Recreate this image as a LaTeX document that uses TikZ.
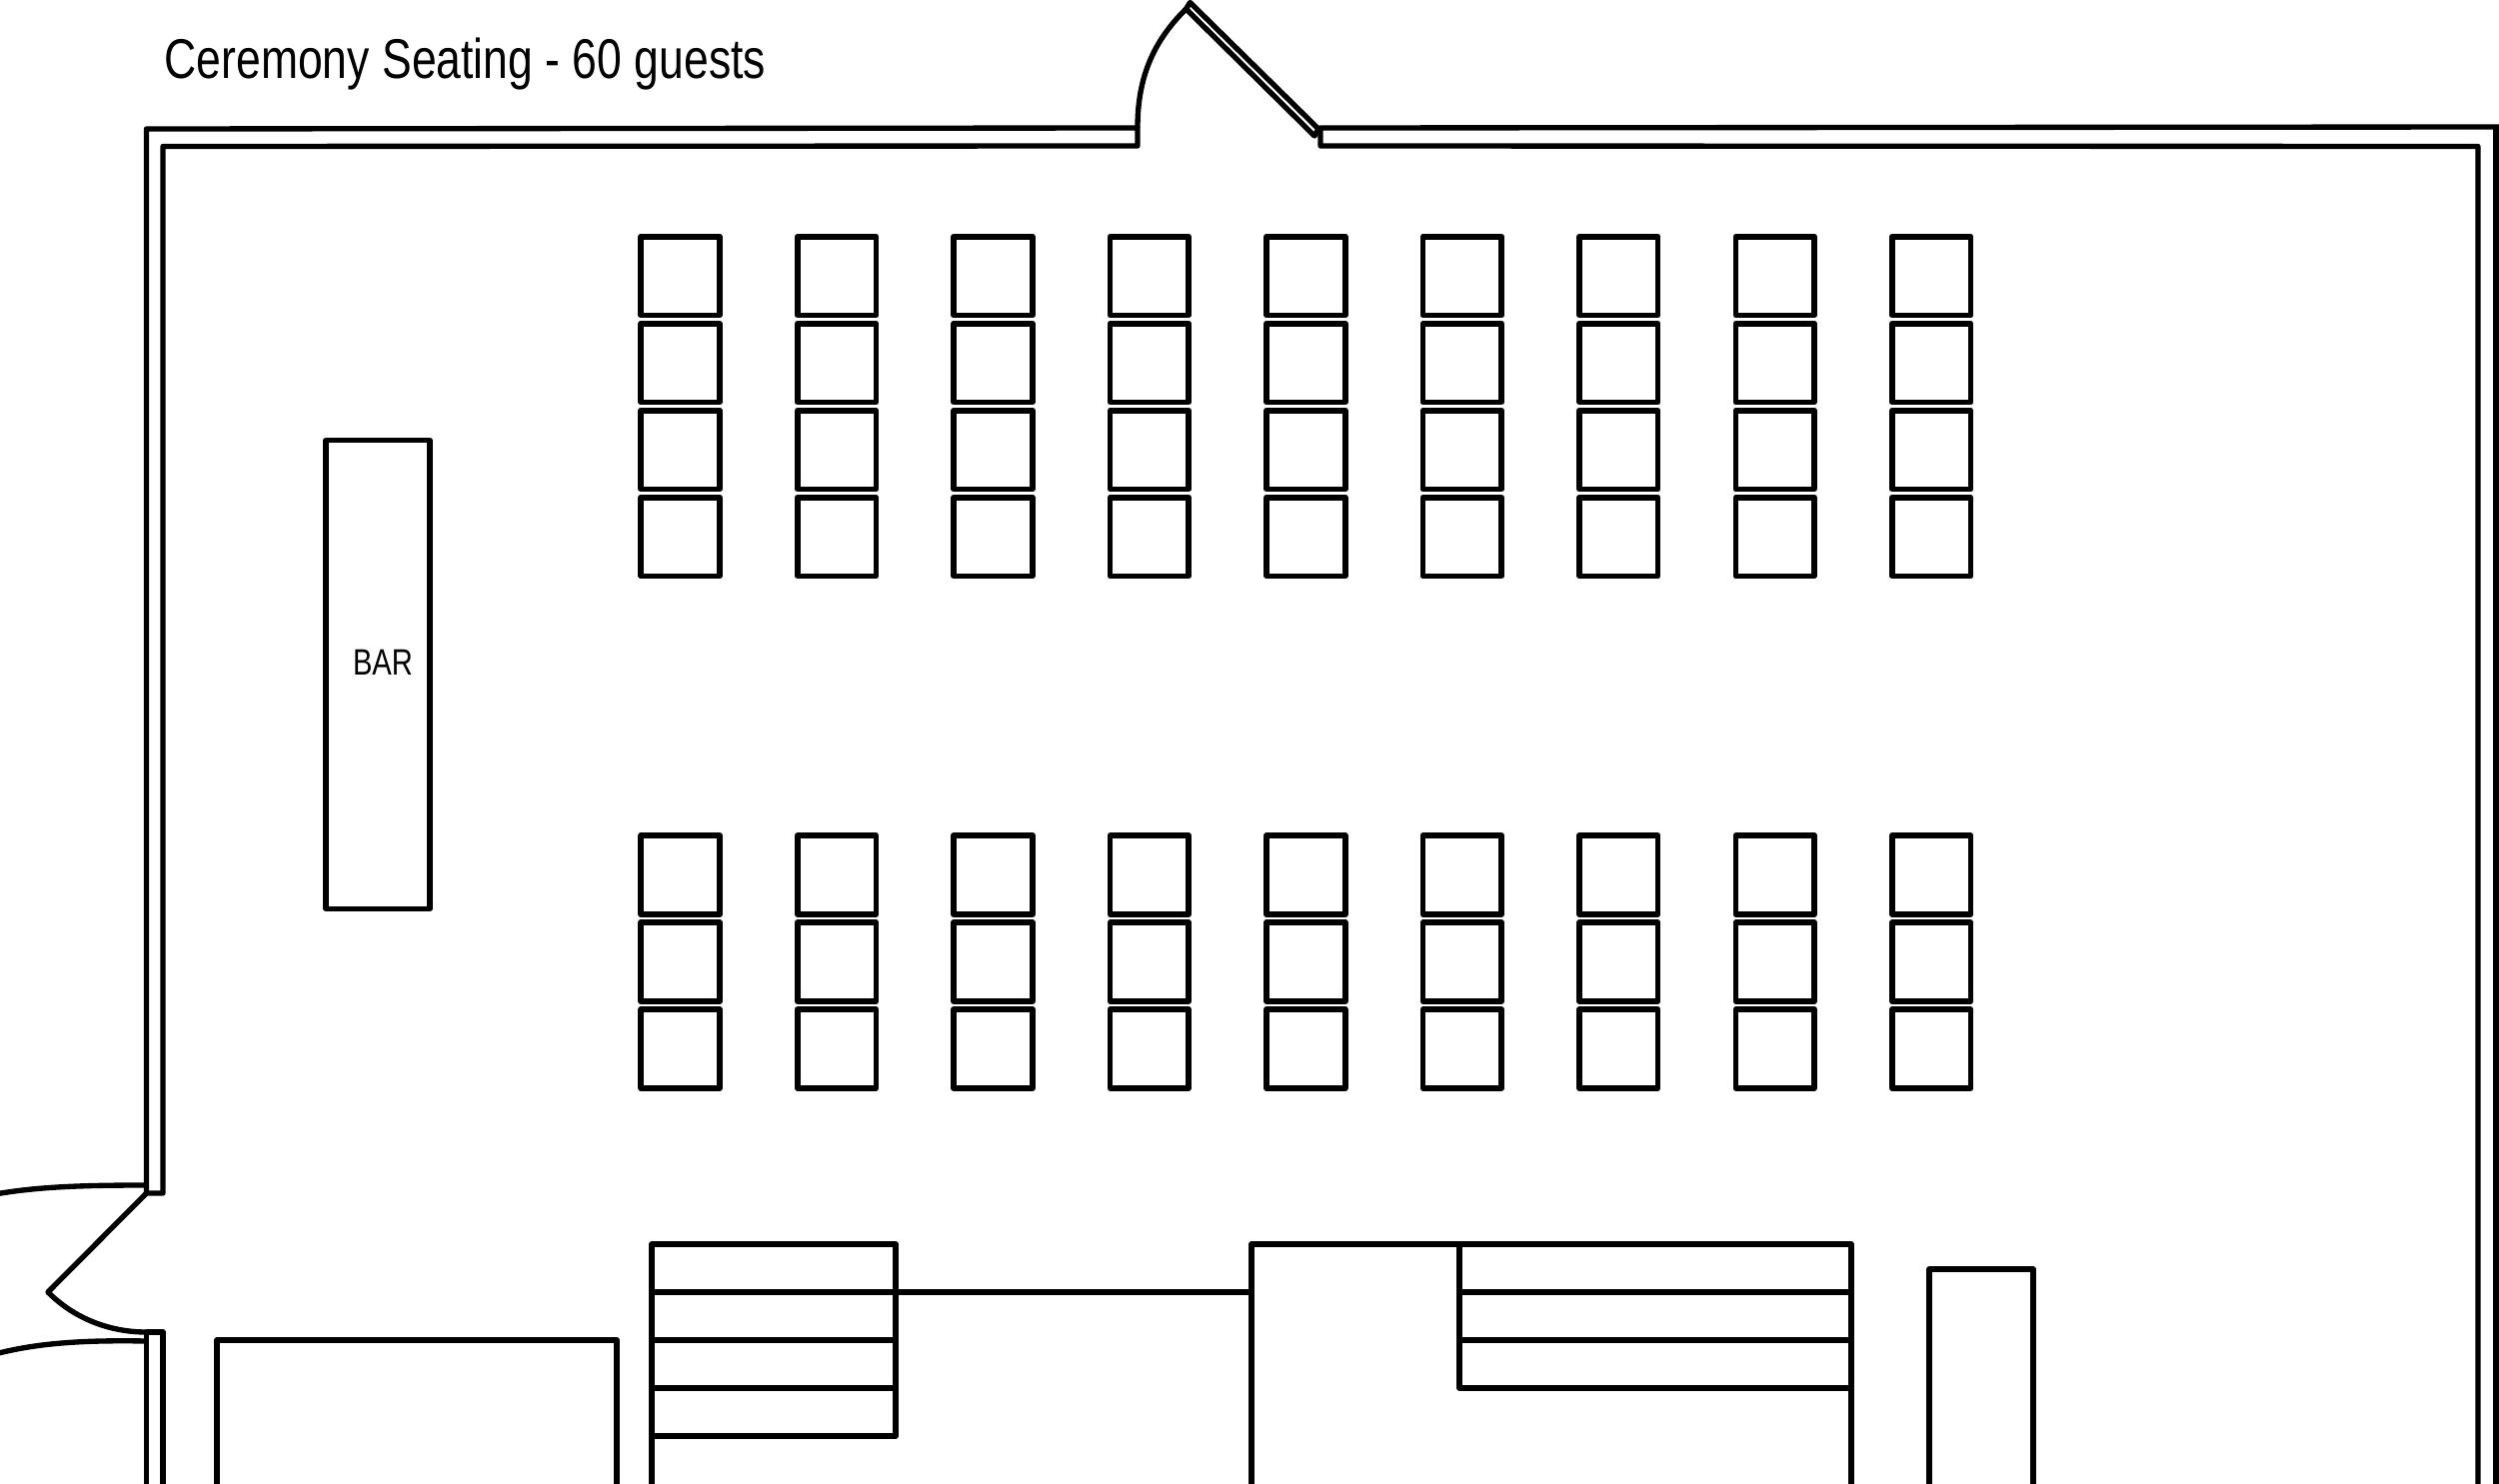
\documentclass[tikz,border=0pt]{standalone}
\usepackage{fontspec}
\newfontfamily\plainfont[FakeStretch=0.795]{Liberation Sans}
\usepackage{tikz}
\usetikzlibrary{positioning}

\begin{document}
\begin{tikzpicture}
[x=0.3pt, y=-0.3pt, line join=round,
 wall/.style={draw=black, line width=1.6pt},
 chair/.style={rectangle, draw=black, line width=1.7pt, inner sep=0pt, minimum size=23.6pt},
 bar/.style={rectangle, draw=black, line width=1.6pt, inner sep=0pt, minimum width=31.2pt, minimum height=140.7pt},
 every text node part/.style={align=center}]
\useasboundingbox (0,0) rectangle (2500,1485);

% title and bar
\node[font=\plainfont\fontsize{16.8}{20}\selectfont, inner sep=0pt, anchor=base west] (title) at (164,78) {Ceremony Seating - 60 guests};
\node[bar] (bar) at (378,675) {};
\node[font=\plainfont\fontsize{11}{13}\selectfont, inner sep=0pt] (barlabel) at (383,663) {BAR};

% seats, upper and lower block
\foreach \col in {0,...,8} {
  \foreach \row in {0,...,3}
    \node[chair] (up\col\row) at ({680.6+156.45*\col},{276+87*\row}) {};
  \foreach \row in {0,...,2}
    \node[chair] (low\col\row) at ({680.6+156.45*\col},{875.5+87*\row}) {};
}

% walls
\draw[wall] (146.5,129) -- (1138,128) -- (1138,146) -- (163,146.5) -- (163,1194) -- (146.5,1194) -- cycle;
\draw[wall] (2510,127) -- (1321,128) -- (1321,146) -- (2479,146.5) -- (2479,1495);
\draw[wall] (2497,127) -- (2497,1495);
\draw[wall] (146.5,1495) -- (146.5,1333) -- (163,1333) -- (163,1495);

% top door
\draw[wall] (1190.5,2.5) -- (1319,129) -- (1315,136) -- (1186.5,9) -- cycle;
\draw[wall] (1138,128) .. controls (1138,80) and (1152,43) .. (1186.5,9);

% side doors
\draw[wall] (146.5,1194) -- (48,1293) .. controls (74,1319) and (109,1333) .. (146.5,1333);
\draw[wall] (146.5,1186) .. controls (90,1186) and (40,1187) .. (-5,1195);
\draw[wall] (146.5,1342) .. controls (90,1341) and (40,1343) .. (-5,1355);

% bottom rooms
\draw[wall] (217,1495) -- (217,1341) -- (617,1341) -- (617,1495);
\draw[wall] (652,1495) -- (652,1245) -- (896,1245) -- (896,1437) -- (652,1437);
\draw[wall] (652,1293) -- (1252,1293);
\draw[wall] (652,1341) -- (896,1341);
\draw[wall] (652,1389) -- (896,1389);
\draw[wall] (1252,1495) -- (1252,1245) -- (1852,1245) -- (1852,1495);
\draw[wall] (1460,1245) -- (1460,1389) -- (1852,1389);
\draw[wall] (1460,1293) -- (1852,1293);
\draw[wall] (1460,1341) -- (1852,1341);
\draw[wall] (1930,1495) -- (1930,1270) -- (2034,1270) -- (2034,1495);

\end{tikzpicture}
\end{document}
